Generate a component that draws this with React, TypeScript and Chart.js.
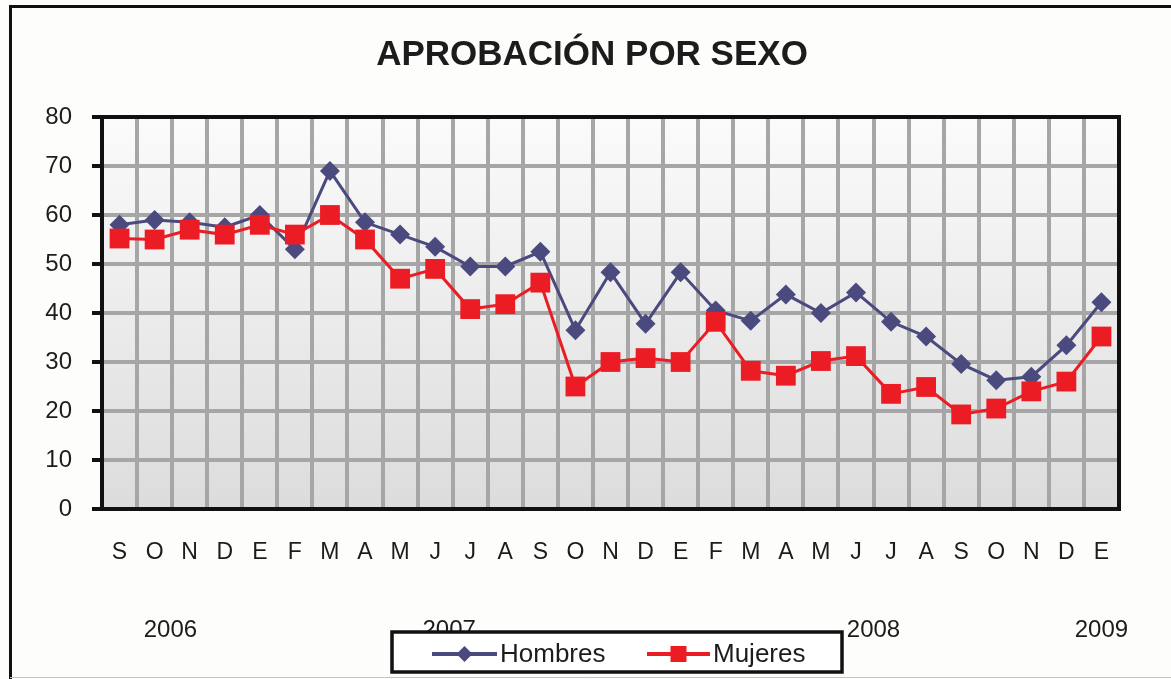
import React, { useEffect, useRef } from 'react';
import { Chart, registerables } from 'chart.js';

Chart.register(...registerables);

const TITLE = 'APROBACIÓN POR SEXO';

const months: string[] = [
  'S', 'O', 'N', 'D',
  'E', 'F', 'M', 'A', 'M', 'J', 'J', 'A', 'S', 'O', 'N', 'D',
  'E', 'F', 'M', 'A', 'M', 'J', 'J', 'A', 'S', 'O', 'N', 'D',
  'E',
];

const hombres: number[] = [
  58, 59, 58.5, 57.5,
  60, 53, 69, 58.5, 56, 53.5, 49.5, 49.5, 52.5, 36.5, 48.3, 37.8,
  48.3, 40.5, 38.4, 43.8, 40, 44.2, 38.2, 35.2, 29.6, 26.3, 27, 33.4,
  42.2,
];

const mujeres: number[] = [
  55.2, 55, 57, 56,
  58, 56, 60, 55, 47, 49, 40.8, 41.8, 46.2, 25, 30, 30.8,
  30, 38.2, 28.2, 27.2, 30.2, 31.2, 23.5, 24.9, 19.3, 20.5, 24, 26,
  35.2,
];

const yearLabels: string[] = ['2006', '2007', '2008', '2009'];
// where each year caption sits, expressed in category-index units
const yearAnchors: number[] = [1.45, 9.4, 21.5, 28];

const Y_MIN = 0;
const Y_MAX = 80;
const Y_STEP = 10;

const FONT = "'Liberation Sans', Arial, Helvetica, sans-serif";
const BLUE = '#4a4a7e';
const RED = '#ec1c24';
const GRID = '#a6a6a6';
const INK = '#1c1c1c';

const framePlugin = {
  id: 'frameAndBackground',
  beforeDraw(chart: any) {
    const { ctx, chartArea, width, height } = chart;
    ctx.save();
    ctx.fillStyle = '#fdfdfb';
    ctx.fillRect(0, 0, width, height);
    const g = ctx.createLinearGradient(0, chartArea.top, 0, chartArea.bottom);
    g.addColorStop(0, '#fbfbfc');
    g.addColorStop(1, '#dcdcdc');
    ctx.fillStyle = g;
    ctx.fillRect(chartArea.left, chartArea.top, chartArea.right - chartArea.left, chartArea.bottom - chartArea.top);
    // outer frame
    ctx.strokeStyle = '#111';
    ctx.lineWidth = 3;
    ctx.beginPath();
    ctx.moveTo(10.5, height + 2);
    ctx.lineTo(10.5, 6.5);
    ctx.lineTo(width + 2, 6.5);
    ctx.stroke();
    ctx.strokeStyle = '#c4c4c4';
    ctx.lineWidth = 1;
    ctx.beginPath();
    ctx.moveTo(10, height - 1.5);
    ctx.lineTo(width, height - 1.5);
    ctx.stroke();
    // title
    ctx.fillStyle = INK;
    ctx.font = `bold 35px ${FONT}`;
    ctx.textAlign = 'center';
    ctx.textBaseline = 'middle';
    ctx.fillText(TITLE, 592, 55);
    ctx.restore();
  },
  beforeDatasetsDraw(chart: any) {
    const { ctx, chartArea } = chart;
    ctx.save();
    ctx.strokeStyle = '#111';
    ctx.lineWidth = 4;
    ctx.strokeRect(chartArea.left, chartArea.top, chartArea.right - chartArea.left, chartArea.bottom - chartArea.top);
    ctx.restore();
  },
  afterDraw(chart: any) {
    const { ctx } = chart;
    const xs = chart.scales.x;
    ctx.save();
    // year captions
    ctx.font = `24px ${FONT}`;
    ctx.fillStyle = INK;
    ctx.textAlign = 'center';
    ctx.textBaseline = 'middle';
    yearLabels.forEach((lbl, i) => {
      ctx.fillText(lbl, xs.getPixelForValue(yearAnchors[i]), 630);
    });
    // boxed legend
    const bx = 392, by = 632, bw = 450, bh = 40;
    ctx.fillStyle = '#ffffff';
    ctx.fillRect(bx, by, bw, bh);
    ctx.strokeStyle = '#111';
    ctx.lineWidth = 3.5;
    ctx.strokeRect(bx, by, bw, bh);
    const items = [
      { x0: 432, x1: 497, tx: 500 },
      { x0: 647, x1: 710, tx: 713 },
    ];
    const cy = 654;
    chart.data.datasets.forEach((ds: any, i: number) => {
      const it = items[i];
      if (!it) return;
      ctx.strokeStyle = ds.borderColor;
      ctx.lineWidth = 4;
      ctx.beginPath();
      ctx.moveTo(it.x0, cy);
      ctx.lineTo(it.x1, cy);
      ctx.stroke();
      const cx = (it.x0 + it.x1) / 2;
      ctx.fillStyle = ds.backgroundColor;
      ctx.beginPath();
      if (ds.pointStyle === 'rectRot') {
        const r = 8;
        ctx.moveTo(cx, cy - r);
        ctx.lineTo(cx + r, cy);
        ctx.lineTo(cx, cy + r);
        ctx.lineTo(cx - r, cy);
        ctx.closePath();
      } else {
        ctx.rect(cx - 8, cy - 8, 16, 16);
      }
      ctx.fill();
      ctx.fillStyle = INK;
      ctx.font = `26px ${FONT}`;
      ctx.textAlign = 'left';
      ctx.textBaseline = 'middle';
      ctx.fillText(ds.label, it.tx, cy + 1);
    });
    ctx.restore();
  },
};

export default function App() {
  const canvasRef = useRef<HTMLCanvasElement | null>(null);

  useEffect(() => {
    const canvas = canvasRef.current;
    if (!canvas) return;
    const chart = new Chart(canvas, {
      type: 'line',
      data: {
        labels: months,
        datasets: [
          {
            label: 'Hombres',
            data: hombres,
            borderColor: BLUE,
            backgroundColor: BLUE,
            borderWidth: 3,
            pointStyle: 'rectRot',
            pointRadius: 10,
            pointBorderWidth: 0,
            pointBackgroundColor: BLUE,
            tension: 0,
            order: 1,
          },
          {
            label: 'Mujeres',
            data: mujeres,
            borderColor: RED,
            backgroundColor: RED,
            borderWidth: 3,
            pointStyle: 'rect',
            pointRadius: 14,
            pointBorderWidth: 0,
            pointBackgroundColor: RED,
            tension: 0,
            order: 0,
          },
        ],
      },
      options: {
        responsive: false,
        animation: false,
        devicePixelRatio: 1,
        layout: { padding: { left: 0, right: 52, top: 117, bottom: 110 } },
        plugins: {
          legend: { display: false },
          tooltip: { enabled: false },
          title: { display: false },
        },
        scales: {
          x: {
            offset: true,
            grid: {
              offset: true,
              color: GRID,
              lineWidth: 4,
              drawTicks: false,
            },
            border: { display: true, color: '#111', width: 4 },
            ticks: {
              autoSkip: false,
              maxRotation: 0,
              minRotation: 0,
              padding: 30,
              color: INK,
              font: { family: FONT, size: 23 },
            },
            afterFit(scale: any) {
              scale.height = 60;
            },
          },
          y: {
            min: Y_MIN,
            max: Y_MAX,
            grid: {
              color: GRID,
              lineWidth: 4,
              drawTicks: true,
              tickLength: 10,
              tickColor: '#111',
              tickWidth: 4,
            },
            border: { display: true, color: '#111', width: 4 },
            ticks: {
              stepSize: Y_STEP,
              padding: 20,
              color: INK,
              font: { family: FONT, size: 24 },
            },
            afterFit(scale: any) {
              scale.width = 102;
            },
          },
        },
      },
      plugins: [framePlugin],
    } as any);
    return () => chart.destroy();
  }, []);

  return (
    <div style={{ position: 'fixed', left: 0, top: 0, width: 1171, height: 679 }}>
      <canvas ref={canvasRef} width={1171} height={679} style={{ display: 'block' }} />
    </div>
  );
}
